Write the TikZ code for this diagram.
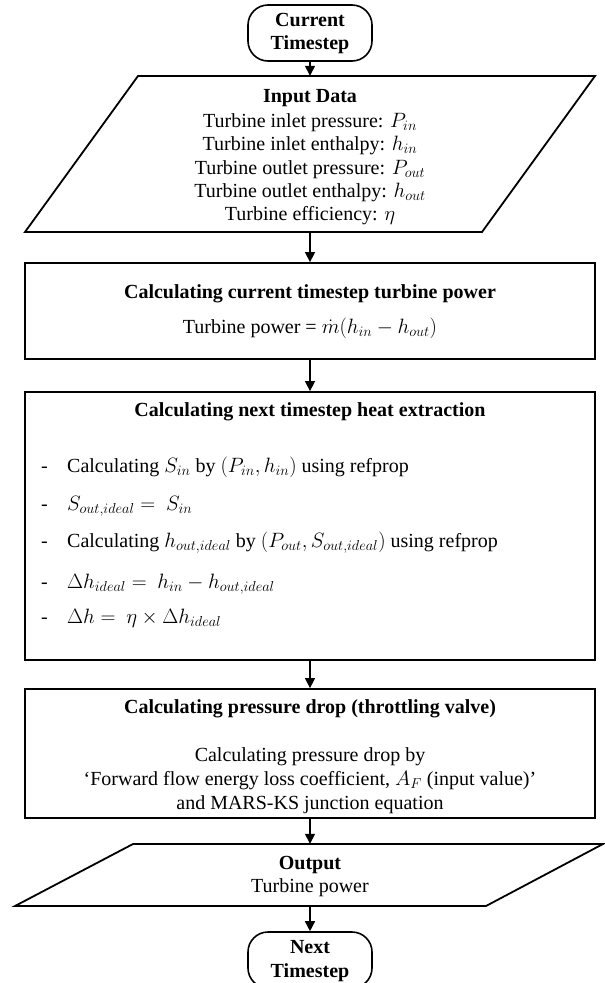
\documentclass[tikz,border=0pt]{standalone}
\usepackage{fontspec}
\setmainfont{Liberation Serif}
\usetikzlibrary{arrows.meta}
\begin{document}
\begin{tikzpicture}[x=1pt,y=-1pt,
  every node/.style={font=\fontsize{20}{23}\selectfont, inner sep=0pt},
  txt/.style={anchor=base},
  ltxt/.style={anchor=base west},
  boxshape/.style={draw, line width=1.8pt, minimum width=570pt},
  termshape/.style={draw, line width=1.6pt, rounded corners=20pt, minimum width=124pt, minimum height=56pt},
  ghost/.style={minimum width=570pt},
  shapeline/.style={line width=1.8pt, line join=miter},
  arr/.style={line width=1.5pt, -{Triangle[length=10pt,width=10pt]}},
]
\useasboundingbox (0,0) rectangle (605,983);
\clip (0,0) rectangle (605,983);

% start terminator
\node[termshape] (t1) at (310,33) {};
\node[txt] (t1a) at (310,26) {\textbf{Current}};
\node[txt] (t1b) at (310,49) {\textbf{Timestep}};

% input parallelogram
\node[ghost, minimum height=156pt] (p1) at (310,154) {};
\draw[shapeline] (138,76) -- (595,76) -- (482,232) -- (25,232) -- cycle;
\node[txt] (p1a) at (310,102) {\textbf{Input Data}};
\node[txt] (p1b) at (310,127) {Turbine inlet pressure: $P_{in}$};
\node[txt] (p1c) at (310,150) {Turbine inlet enthalpy: $h_{in}$};
\node[txt] (p1d) at (310,174) {Turbine outlet pressure: $P_{out}$};
\node[txt] (p1e) at (310,197) {Turbine outlet enthalpy: $h_{out}$};
\node[txt] (p1f) at (310,220) {Turbine efficiency: $\eta$};

% box 1
\node[boxshape, minimum height=96pt] (b1) at (310,311) {};
\node[txt] (b1a) at (310,298) {\textbf{Calculating current timestep turbine power}};
\node[txt] (b1b) at (310,333) {Turbine power = $\dot{m}(h_{in}-h_{out})$};

% box 2
\node[boxshape, minimum height=268pt] (b2) at (310,526) {};
\node[txt] (b2a) at (310,416) {\textbf{Calculating next timestep heat extraction}};
\node[ltxt] (d1) at (41,472) {-};
\node[ltxt] (i1) at (67,472) {Calculating $S_{in}$ by $(P_{in}, h_{in})$ using refprop};
\node[ltxt] (d2) at (41,510) {-};
\node[ltxt] (i2) at (67,510) {$S_{out,ideal} =\ S_{in}$};
\node[ltxt] (d3) at (41,547) {-};
\node[ltxt] (i3) at (67,547) {Calculating $h_{out,ideal}$ by $(P_{out}, S_{out,ideal})$ using refprop};
\node[ltxt] (d4) at (41,588) {-};
\node[ltxt] (i4) at (67,588) {$\Delta h_{ideal} =\ h_{in} - h_{out,ideal}$};
\node[ltxt] (d5) at (41,623) {-};
\node[ltxt] (i5) at (67,623) {$\Delta h =\ \eta \times \Delta h_{ideal}$};

% box 3
\node[boxshape, minimum height=129pt] (b3) at (310,753.5) {};
\node[txt] (b3a) at (310,713) {\textbf{Calculating pressure drop (throttling valve)}};
\node[txt] (b3b) at (310,761) {Calculating pressure drop by};
\node[txt] (b3c) at (310,785) {‘Forward flow energy loss coefficient, $A_F$ (input value)’};
\node[txt] (b3d) at (310,809) {and MARS-KS junction equation};

% output parallelogram
\node[ghost, minimum height=62pt] (p2) at (310,875) {};
\draw[shapeline] (133,844) -- (603,844) -- (486,906) -- (15,906) -- cycle;
\node[txt] (p2a) at (310,869) {\textbf{Output}};
\node[txt] (p2b) at (310,892) {Turbine power};

% end terminator
\node[termshape] (t2) at (310,960) {};
\node[txt] (t2a) at (310,953) {\textbf{Next}};
\node[txt] (t2b) at (310,977) {\textbf{Timestep}};

% connectors
\draw[arr] (t1.south) -- (p1.north);
\draw[arr] (p1.south) -- (b1.north);
\draw[arr] (b1.south) -- (b2.north);
\draw[arr] (b2.south) -- (b3.north);
\draw[arr] (b3.south) -- (p2.north);
\draw[arr] (p2.south) -- (t2.north);
\end{tikzpicture}
\end{document}
